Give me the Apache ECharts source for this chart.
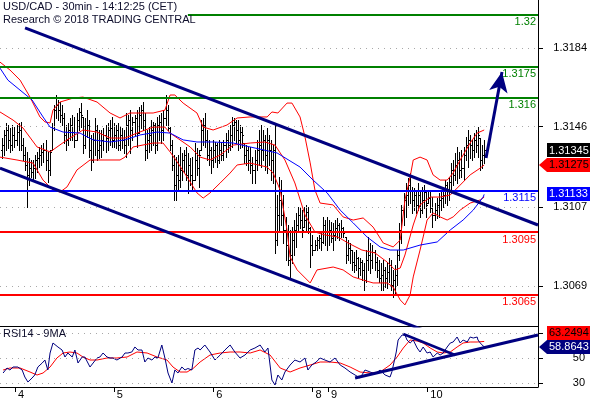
<!DOCTYPE html>
<html><head><meta charset="utf-8">
<script src="https://cdn.jsdelivr.net/npm/echarts@6/dist/echarts.min.js"></script>
<style>html,body{margin:0;padding:0;background:#fff}#c{width:590px;height:400px}</style>
</head><body><div id="c"></div>
<script>
// ---------- data (30-min bars, index 0 = first bar) ----------
const barOpen = [1.31347,1.31371,1.31420,1.31444,1.31396,1.31371,1.31420,1.31396,1.31434,1.31444,1.31371,1.31323,
1.31275,1.31226,1.31260,1.31241,1.31260,1.31299,1.31309,1.31323,1.31338,1.31347,1.31299,1.31251,
1.31347,1.31454,1.31540,1.31565,1.31540,1.31516,1.31502,1.31420,1.31396,1.31444,1.31468,1.31434,
1.31396,1.31492,1.31531,1.31507,1.31371,1.31444,1.31468,1.31347,1.31299,1.31396,1.31444,1.31347,
1.31371,1.31396,1.31420,1.31405,1.31444,1.31454,1.31396,1.31420,1.31444,1.31371,1.31420,1.31396,
1.31371,1.31468,1.31492,1.31444,1.31483,1.31502,1.31429,1.31516,1.31540,1.31492,1.31347,1.31396,
1.31420,1.31444,1.31468,1.31371,1.31468,1.31483,1.31444,1.31502,1.31540,1.31454,1.31371,1.31275,
1.31178,1.31226,1.31202,1.31251,1.31299,1.31323,1.31226,1.31275,1.31226,1.31202,1.31299,1.31260,
1.31347,1.31444,1.31468,1.31396,1.31323,1.31347,1.31299,1.31347,1.31371,1.31299,1.31347,1.31323,
1.31371,1.31396,1.31371,1.31420,1.31468,1.31483,1.31444,1.31396,1.31434,1.31381,1.31323,1.31347,
1.31299,1.31275,1.31251,1.31299,1.31347,1.31371,1.31347,1.31396,1.31323,1.31396,1.31347,1.31299,
1.31347,1.30912,1.31033,1.31106,1.31033,1.30961,1.30888,1.30816,1.30840,1.30912,1.30961,1.30985,
1.31033,1.31009,1.30975,1.31009,1.31048,1.30970,1.30888,1.30864,1.30888,1.30912,1.30922,1.30903,
1.30985,1.30951,1.30937,1.30961,1.30922,1.30937,1.30970,1.30985,1.30951,1.30970,1.30927,1.30840,
1.30874,1.30864,1.30806,1.30792,1.30826,1.30777,1.30806,1.30768,1.30719,1.30816,1.30840,1.30816,
1.30854,1.30806,1.30768,1.30729,1.30743,1.30768,1.30729,1.30758,1.30792,1.30695,1.30719,1.30743,
1.30840,1.30961,1.31057,1.31106,1.31130,1.31178,1.31154,1.31106,1.31130,1.31082,1.31130,1.31057,
1.31106,1.31144,1.31091,1.31115,1.31067,1.31033,1.31057,1.31082,1.31106,1.31115,1.31130,1.31178,
1.31154,1.31193,1.31251,1.31226,1.31275,1.31299,1.31251,1.31260,1.31323,1.31371,1.31396,1.31371,
1.31347,1.31396,1.31371,1.31405,1.31299,1.31323];
const barHigh = [1.31405,1.31444,1.31478,1.31468,1.31454,1.31468,1.31458,1.31468,1.31478,1.31483,1.31405,1.31362,
1.31338,1.31309,1.31299,1.31299,1.31323,1.31338,1.31362,1.31371,1.31381,1.31396,1.31338,1.31347,
1.31478,1.31565,1.31613,1.31589,1.31579,1.31565,1.31526,1.31468,1.31478,1.31502,1.31516,1.31507,
1.31526,1.31550,1.31574,1.31507,1.31502,1.31540,1.31492,1.31420,1.31429,1.31502,1.31468,1.31444,
1.31444,1.31454,1.31468,1.31478,1.31492,1.31507,1.31478,1.31468,1.31478,1.31458,1.31454,1.31444,
1.31526,1.31516,1.31540,1.31507,1.31516,1.31540,1.31555,1.31565,1.31579,1.31526,1.31444,1.31458,
1.31492,1.31483,1.31478,1.31507,1.31516,1.31526,1.31540,1.31613,1.31565,1.31458,1.31396,1.31323,
1.31313,1.31323,1.31362,1.31333,1.31347,1.31362,1.31333,1.31309,1.31313,1.31381,1.31357,1.31347,
1.31492,1.31502,1.31526,1.31444,1.31396,1.31362,1.31396,1.31386,1.31381,1.31396,1.31386,1.31396,
1.31429,1.31444,1.31468,1.31507,1.31502,1.31492,1.31492,1.31468,1.31458,1.31381,1.31371,1.31362,
1.31362,1.31313,1.31347,1.31396,1.31444,1.31468,1.31444,1.31420,1.31454,1.31420,1.31396,1.31371,
1.31478,1.31130,1.31217,1.31202,1.31130,1.31024,1.30985,1.30961,1.30975,1.31009,1.31043,1.31072,
1.31067,1.31057,1.31072,1.31082,1.31072,1.30975,1.30937,1.30912,1.30927,1.30937,1.30946,1.31024,
1.31009,1.31024,1.31009,1.30999,1.30995,1.31009,1.31019,1.30995,1.31009,1.30975,1.30927,1.30912,
1.30898,1.30864,1.30854,1.30864,1.30830,1.30826,1.30816,1.30801,1.30864,1.30927,1.30898,1.30888,
1.30864,1.30830,1.30816,1.30801,1.30816,1.30782,1.30806,1.30826,1.30816,1.30768,1.30792,1.30864,
1.30995,1.31082,1.31140,1.31188,1.31212,1.31236,1.31169,1.31164,1.31154,1.31188,1.31154,1.31169,
1.31178,1.31154,1.31154,1.31144,1.31120,1.31091,1.31115,1.31140,1.31154,1.31154,1.31202,1.31193,
1.31217,1.31284,1.31299,1.31333,1.31362,1.31338,1.31347,1.31362,1.31410,1.31444,1.31420,1.31396,
1.31429,1.31444,1.31458,1.31405,1.31371,1.31396];
const barLow = [1.31309,1.31323,1.31347,1.31357,1.31338,1.31347,1.31362,1.31371,1.31347,1.31347,1.31299,1.31251,
1.31072,1.31178,1.31217,1.31202,1.31212,1.31241,1.31265,1.31275,1.31289,1.31251,1.31193,1.31226,
1.31347,1.31444,1.31502,1.31492,1.31483,1.31468,1.31381,1.31347,1.31371,1.31396,1.31396,1.31362,
1.31396,1.31444,1.31458,1.31333,1.31357,1.31410,1.31313,1.31251,1.31289,1.31323,1.31299,1.31309,
1.31313,1.31347,1.31338,1.31347,1.31371,1.31362,1.31362,1.31357,1.31347,1.31347,1.31357,1.31333,
1.31313,1.31371,1.31333,1.31396,1.31420,1.31362,1.31429,1.31454,1.31444,1.31299,1.31309,1.31338,
1.31347,1.31371,1.31333,1.31347,1.31396,1.31381,1.31396,1.31468,1.31444,1.31347,1.31251,1.31106,
1.31106,1.31154,1.31169,1.31202,1.31241,1.31202,1.31140,1.31178,1.31154,1.31202,1.31226,1.31169,
1.31347,1.31371,1.31362,1.31299,1.31275,1.31236,1.31265,1.31289,1.31265,1.31284,1.31299,1.31299,
1.31313,1.31338,1.31347,1.31362,1.31396,1.31381,1.31347,1.31357,1.31362,1.31284,1.31275,1.31251,
1.31236,1.31188,1.31188,1.31251,1.31275,1.31265,1.31299,1.31251,1.31236,1.31275,1.31202,1.31188,
1.30850,1.30888,1.30961,1.30985,1.30898,1.30816,1.30792,1.30734,1.30801,1.30840,1.30879,1.30961,
1.30970,1.30927,1.30975,1.30961,1.30946,1.30782,1.30840,1.30864,1.30864,1.30874,1.30864,1.30898,
1.30888,1.30864,1.30888,1.30903,1.30864,1.30912,1.30922,1.30912,1.30927,1.30927,1.30801,1.30816,
1.30801,1.30768,1.30758,1.30768,1.30734,1.30743,1.30719,1.30671,1.30710,1.30768,1.30753,1.30777,
1.30768,1.30734,1.30710,1.30671,1.30671,1.30685,1.30681,1.30710,1.30671,1.30637,1.30656,1.30695,
1.30816,1.30898,1.30985,1.31024,1.31082,1.31091,1.31043,1.31057,1.31043,1.31057,1.31024,1.31043,
1.31067,1.31024,1.31091,1.31048,1.30975,1.31009,1.31019,1.31024,1.31057,1.31072,1.31091,1.31082,
1.31106,1.31140,1.31178,1.31202,1.31188,1.31212,1.31217,1.31202,1.31299,1.31265,1.31309,1.31299,
1.31313,1.31338,1.31313,1.31251,1.31260,1.31284];
const barClose = [1.31371,1.31420,1.31444,1.31396,1.31371,1.31420,1.31396,1.31434,1.31444,1.31371,1.31323,1.31275,
1.31226,1.31260,1.31241,1.31260,1.31299,1.31309,1.31323,1.31338,1.31347,1.31299,1.31251,1.31338,
1.31454,1.31540,1.31565,1.31540,1.31516,1.31502,1.31420,1.31396,1.31444,1.31468,1.31434,1.31396,
1.31492,1.31531,1.31516,1.31371,1.31444,1.31468,1.31347,1.31299,1.31396,1.31444,1.31347,1.31371,
1.31396,1.31420,1.31405,1.31444,1.31454,1.31396,1.31420,1.31444,1.31371,1.31420,1.31396,1.31371,
1.31468,1.31492,1.31444,1.31483,1.31502,1.31420,1.31516,1.31540,1.31492,1.31347,1.31396,1.31420,
1.31444,1.31468,1.31371,1.31468,1.31483,1.31444,1.31502,1.31540,1.31454,1.31371,1.31275,1.31178,
1.31226,1.31202,1.31251,1.31299,1.31323,1.31226,1.31275,1.31226,1.31202,1.31299,1.31260,1.31323,
1.31444,1.31468,1.31396,1.31323,1.31347,1.31299,1.31347,1.31371,1.31299,1.31347,1.31323,1.31371,
1.31396,1.31371,1.31420,1.31468,1.31483,1.31444,1.31396,1.31434,1.31420,1.31323,1.31347,1.31299,
1.31275,1.31251,1.31299,1.31347,1.31371,1.31347,1.31396,1.31323,1.31396,1.31347,1.31299,1.31347,
1.30912,1.31033,1.31106,1.31033,1.30961,1.30888,1.30816,1.30840,1.30912,1.30961,1.30985,1.31033,
1.31009,1.30961,1.31009,1.31048,1.30970,1.30888,1.30864,1.30888,1.30912,1.30922,1.30903,1.30985,
1.30951,1.30937,1.30961,1.30922,1.30937,1.30970,1.30985,1.30951,1.30970,1.30946,1.30840,1.30874,
1.30864,1.30806,1.30792,1.30826,1.30777,1.30806,1.30768,1.30719,1.30816,1.30840,1.30816,1.30854,
1.30806,1.30768,1.30729,1.30743,1.30768,1.30729,1.30758,1.30792,1.30695,1.30719,1.30743,1.30840,
1.30961,1.31057,1.31106,1.31130,1.31178,1.31154,1.31106,1.31130,1.31082,1.31130,1.31057,1.31106,
1.31144,1.31082,1.31115,1.31067,1.31033,1.31057,1.31082,1.31106,1.31115,1.31130,1.31178,1.31154,
1.31193,1.31251,1.31226,1.31275,1.31299,1.31251,1.31260,1.31323,1.31371,1.31396,1.31371,1.31347,
1.31396,1.31371,1.31420,1.31299,1.31323,1.31345];

const upperBand = [[-1,1.31772],[3.8,1.31734],[8.7,1.31685],[13.5,1.31603],[18.3,1.31507],[20.7,1.31483],[23.2,1.31478],[24.6,1.31540],[28,1.31579],[34.3,1.31598],[39.1,1.31603],[45.9,1.31579],[52.2,1.31526],[57,1.31502],[61.8,1.31526],[73,1.31526],[78.7,1.31540],[81.2,1.31613],[83.5,1.31613],[87.5,1.31574],[94.2,1.31526],[97.2,1.31458],[102,1.31444],[108.7,1.31468],[113.6,1.31502],[119.9,1.31507],[128.1,1.31507],[130.4,1.31531],[133.3,1.31526],[137.7,1.31574],[140.1,1.31574],[144,1.31507],[146.4,1.31410],[148.9,1.31285],[151.2,1.31154],[153.7,1.31091],[160,1.31082],[164.8,1.31024],[169.7,1.31009],[174.5,1.31019],[179.3,1.30975],[184.2,1.30898],[189,1.30879],[192.4,1.30912],[194.7,1.31106],[197.2,1.31217],[198.7,1.31299],[202,1.31313],[205.4,1.31299],[208.3,1.31227],[211.7,1.31202],[215.1,1.31202],[218,1.31236],[221.4,1.31299],[226.2,1.31381],[229.6,1.31429],[233,1.31444]];
const middleBand = [[-1,1.31531],[5.3,1.31492],[10.1,1.31454],[16.9,1.31362],[23.2,1.31338],[31.4,1.31396],[39.1,1.31444],[45.9,1.31434],[52.2,1.31405],[59.4,1.31405],[65.2,1.31429],[73,1.31458],[78.7,1.31458],[81.2,1.31429],[86,1.31396],[90.9,1.31362],[95.7,1.31313],[100.5,1.31299],[105.4,1.31323],[111.7,1.31371],[119.9,1.31381],[127,1.31386],[131.9,1.31371],[136.7,1.31299],[141.5,1.31188],[146.4,1.31033],[151.2,1.30951],[156,1.30937],[162.3,1.30927],[167.2,1.30898],[173.9,1.30864],[180.2,1.30850],[186.1,1.30806],[189.9,1.30768],[192.4,1.30777],[194.7,1.30840],[198.7,1.30985],[202,1.31082],[206.9,1.31120],[211.7,1.31120],[216.6,1.31130],[221.4,1.31178],[226.2,1.31227],[231.1,1.31260],[233,1.31275]];
const lowerBand = [[-1,1.31313],[7.2,1.31299],[15,1.31284],[19.8,1.31202],[24.6,1.31154],[28,1.31144],[31.4,1.31169],[36.2,1.31251],[42.5,1.31299],[47.3,1.31299],[57,1.31299],[59.4,1.31313],[63.3,1.31362],[73,1.31381],[77.8,1.31381],[81.2,1.31338],[85,1.31284],[89.4,1.31217],[94.2,1.31140],[97.2,1.31115],[100.5,1.31140],[105.4,1.31188],[110.2,1.31236],[113.6,1.31275],[119.9,1.31284],[128.1,1.31265],[131,1.31236],[134.4,1.31154],[135.8,1.31072],[137.7,1.30961],[139.2,1.30830],[142.6,1.30768],[148.9,1.30705],[152.2,1.30768],[160,1.30782],[164.8,1.30768],[169.7,1.30734],[174.5,1.30719],[179.3,1.30705],[186.1,1.30705],[189,1.30685],[192.4,1.30623],[194.7,1.30599],[197.2,1.30647],[198.7,1.30734],[202,1.30864],[203.5,1.30927],[205.4,1.31009],[208.3,1.31043],[211.7,1.31024],[215.1,1.31009],[218,1.31024],[221.4,1.31057],[226.2,1.31091],[231.1,1.31106],[233,1.31120]];
const blueMA = [[-1,1.31743],[2.8,1.31685],[14.5,1.31589],[19.8,1.31507],[23.2,1.31458],[29.5,1.31434],[37.7,1.31429],[44,1.31396],[52.2,1.31386],[59.4,1.31396],[66.7,1.31420],[74.9,1.31434],[81.2,1.31429],[87.5,1.31396],[94.2,1.31386],[102,1.31386],[111.7,1.31381],[119.9,1.31362],[132.9,1.31333],[144,1.31265],[150.3,1.31202],[157.1,1.31140],[163.4,1.31057],[169.7,1.30995],[176.4,1.30927],[182.7,1.30879],[187.5,1.30864],[193.9,1.30864],[202,1.30888],[210.3,1.30903],[216.6,1.30961],[222.8,1.31009],[227.7,1.31057],[232.5,1.31120],[233,1.31133]];

const rsiLine = [[0.5,38],[2.4,42],[3.8,40.4],[5.3,42.8],[7.6,42.8],[9.7,40.4],[11,34.8],[12.5,30.8],[14.5,34],[15.8,36.4],[17.3,42.8],[19.4,46],[20.7,48.4],[22.1,40.4],[23.2,54],[24.6,62],[25.5,60.4],[27,58.8],[29,56.4],[30.4,50.8],[31.8,54],[33.9,50.8],[35.2,56.4],[36.7,46],[38.7,50.8],[40,50.8],[41.5,46],[42.5,42.8],[44,46],[45.9,50],[47.3,50.8],[48.8,54],[50.7,50.8],[52.2,50],[53.6,50],[55.5,48.4],[58,50.8],[59.4,54],[60.8,54],[62.7,54.8],[64.2,58.8],[65.7,56.4],[67.6,56.4],[69,46.8],[70.5,50],[72.4,48.4],[73.9,50.8],[75.3,50],[77.2,60.4],[78.7,50],[80.2,38],[82.1,30],[83.5,40.4],[85,38],[86.9,42.8],[88.4,40.4],[89.8,41.6],[91.7,40.4],[93.2,56.4],[94.7,58],[95.7,56.4],[98,60.4],[100.5,54.8],[102.9,48.4],[105.4,52.4],[107.7,56.4],[110.2,60.4],[112.5,54.8],[115,50],[117.4,52.4],[119.9,56.4],[122.2,58],[124.7,60.4],[127,54.8],[128.5,58],[130.4,32.4],[131.9,28.4],[133.3,36.4],[135.2,32.4],[136.7,38.8],[139.2,44.4],[141.5,48.4],[144,46.8],[146.4,50],[147.8,40.4],[149.7,44.4],[151.8,46.8],[153.7,50],[156,48.4],[158.5,46.8],[160.9,50],[163.4,44.4],[165.7,42],[168.2,38.8],[170.6,36.4],[173,34],[175.4,40.4],[177.9,38.8],[180.2,37.2],[182.7,40.4],[185.1,36.4],[187.5,34.8],[188.4,39],[190.5,54.8],[191.4,64.4],[193.3,68.4],[194.7,68.4],[195.7,64.4],[197.2,62],[198.7,64.4],[200.6,58],[202,54.8],[203.5,58.8],[205.4,54],[206.9,54.8],[208.3,50.8],[210.3,54],[211.7,52.4],[213.2,54],[215.1,58.8],[216.6,62],[218,62.8],[219.9,66.8],[221.4,62],[222.8,64.4],[224.8,62.8],[226.2,66.8],[227.7,66],[229.6,66.8],[230,64.4],[231.1,62],[232.5,59.6],[233,58.8643]];
const rsiMA = [[0.5,40.4],[3.8,42],[8.7,42],[13.5,38.8],[16.9,36.4],[19.8,38],[23.2,42.8],[26.5,50],[29.5,54],[32.8,54.8],[36.2,54],[39.1,50.8],[42.5,48.4],[45.9,48.4],[50.7,50],[55.5,50],[60.4,50.8],[65.2,54.8],[70.1,54],[74.9,50.8],[79.7,48.4],[82.6,42.8],[86,38.8],[89.4,38.8],[92.3,41.6],[95.7,46.8],[100.5,52.4],[105.4,54],[110.2,54.8],[115,54.8],[119.9,54],[124.7,56.4],[129.5,52.4],[134.4,42],[139.2,38.8],[144,42],[148.9,44.4],[153.7,46.8],[158.5,46.8],[163.4,46],[168.2,42.8],[173,38.8],[177.9,38],[182.7,38.8],[187.5,44.4],[190.9,50.8],[193.9,58],[197.2,64.4],[200.6,63.6],[203.5,62],[206.9,58],[210.3,54.8],[213.2,54],[216.6,54.8],[219.9,58.8],[222.8,62],[226.2,62.8],[229.6,62.8],[233,63.2494]];

const channelUpper = [[11.1,1.31937],[259,1.30985]];
const channelLower = [[-1,1.31260],[205.6,1.30470]];
const projection = [[233.9,1.31309],[241.6,1.31724]];
const rsiSupport = [[170.6,34],[259,68.4]];
const rsiResistance = [[193.9,69.2],[218.9,52.4]];

const levelValues = [1.32,1.3175,1.316,1.3115,1.3095,1.3065];
const levelLabels = ['1.32','1.3175','1.316','1.3115','1.3095','1.3065'];
const level132Start = 89.8;
const priceTicks = [1.3069,1.3107,1.3146,1.3184];
const rsiTicks = [30,50,70];
const rsiLabelTicks = [30,50];
const dayTickPos = [6.2,54,102,150,157.5,205.5];
const dayLabels = ['4','5','6','8','9','10'];
const lastClose = 1.31345, lastMid = 1.31275, lastMA = 1.31133;
const lastRsiMA = 63.2494, lastRsi = 58.8643;
const titleLine1 = 'USD/CAD - 30min - 14:12:25 (CET)';
const titleLine2 = 'Research \u00a9 2018 TRADING CENTRAL';
const rsiTitle = 'RSI14 - 9MA';

// ---------- chart ----------
const FONT = '"Liberation Sans", Arial, sans-serif';
const X_MIN = -1, X_MAX = 259;
const levelColors = ['#008000','#008000','#008000','#0000ff','#ff0000','#ff0000'];
const ohlcData = barOpen.map((o, i) => [i, o, barHigh[i], barLow[i], barClose[i]]);

function renderOHLC(params, api) {
  const i = api.value(0);
  const h = api.coord([i, api.value(2)]);
  const l = api.coord([i, api.value(3)]);
  const o = api.coord([i, api.value(1)]);
  const c = api.coord([i, api.value(4)]);
  const r = Math.round(h[0]);
  const yo = Math.round(o[1]) + 0.5, yc = Math.round(c[1]) + 0.5;
  return {type: 'group', children: [
    {type: 'line', shape: {x1: r + 0.5, y1: Math.round(h[1]), x2: r + 0.5, y2: Math.round(l[1]) + 1}, style: {stroke: '#000', lineWidth: 1}},
    {type: 'line', shape: {x1: r - 1, y1: yo, x2: r, y2: yo}, style: {stroke: '#000', lineWidth: 1}},
    {type: 'line', shape: {x1: r + 1, y1: yc, x2: r + 2, y2: yc}, style: {stroke: '#000', lineWidth: 1}}
  ]};
}

const chart = echarts.init(document.getElementById('c'), null, {renderer: 'canvas'});
const lineBase = {type: 'line', showSymbol: false, symbol: 'none', smooth: false, silent: true};

const levelMarks = levelValues.map((v, k) => {
  const item = {
    lineStyle: {color: levelColors[k], width: 2, type: 'solid'},
    label: {show: true, position: 'insideEndBottom', formatter: levelLabels[k], color: levelColors[k], fontSize: 11, fontFamily: FONT, distance: [2, 2]}
  };
  if (k === 0) {
    return [Object.assign({coord: [level132Start, v]}, item), {coord: [X_MAX, v]}];
  }
  return Object.assign({yAxis: v}, item);
});

const option = {
  animation: false,
  backgroundColor: '#ffffff',
  grid: [
    {left: 0, right: 52, top: 0, height: 326},
    {left: 0, right: 52, top: 326, height: 61}
  ],
  xAxis: [
    {gridIndex: 0, type: 'value', min: X_MIN, max: X_MAX,
     axisLine: {show: true, onZero: false, lineStyle: {color: '#000', width: 1}},
     axisTick: {show: false}, axisLabel: {show: false}, splitLine: {show: false}},
    {gridIndex: 1, type: 'value', min: X_MIN, max: X_MAX,
     axisLine: {show: true, onZero: false, lineStyle: {color: '#000', width: 1}},
     axisTick: {show: true, customValues: dayTickPos, length: 5, lineStyle: {color: '#000'}},
     axisLabel: {show: true, customValues: dayTickPos, align: 'left', margin: 2, padding: [0, 0, 0, 3],
       formatter: v => { const k = dayTickPos.findIndex(p => Math.abs(p - v) < 0.01); return k >= 0 ? dayLabels[k] : ''; },
       fontSize: 11, color: '#000', fontFamily: FONT},
     splitLine: {show: false}}
  ],
  yAxis: [
    {gridIndex: 0, type: 'value', position: 'right', min: 1.30497, max: 1.32072, scale: true,
     axisLine: {show: true, onZero: false, lineStyle: {color: '#000', width: 1}},
     axisTick: {show: true, customValues: priceTicks, length: 5, lineStyle: {color: '#000'}},
     axisLabel: {show: true, customValues: priceTicks, formatter: v => v.toFixed(4), align: 'right', margin: 49,
       fontSize: 11, color: '#000', fontFamily: FONT},
     splitLine: {show: false}},
    {gridIndex: 1, type: 'value', position: 'right', min: 26.8, max: 75.6, scale: true,
     axisLine: {show: true, onZero: false, lineStyle: {color: '#000', width: 1}},
     axisTick: {show: true, customValues: rsiTicks, length: 5, lineStyle: {color: '#000'}},
     axisLabel: {show: true, customValues: rsiLabelTicks, formatter: v => String(Math.round(v)), align: 'right', margin: 47,
       fontSize: 11, color: '#000', fontFamily: FONT},
     splitLine: {show: false}}
  ],
  series: [
    Object.assign({}, lineBase, {name: 'mid', xAxisIndex: 0, yAxisIndex: 0, data: middleBand, z: 3,
      lineStyle: {color: '#ff0000', width: 1},
      markLine: {silent: true, precision: 6, symbol: ['none', 'none'], label: {show: false},
        lineStyle: {color: '#a8a8a8', type: [1, 5], width: 1},
        data: priceTicks.map(v => ({yAxis: v}))}}),
    {name: 'ohlc', type: 'custom', xAxisIndex: 0, yAxisIndex: 0, data: ohlcData, encode: {x: 0, y: [1, 2, 3, 4]},
      renderItem: renderOHLC, z: 2, silent: true},
    Object.assign({}, lineBase, {name: 'upper', xAxisIndex: 0, yAxisIndex: 0, data: upperBand, z: 3, lineStyle: {color: '#ff0000', width: 1}}),
    Object.assign({}, lineBase, {name: 'lower', xAxisIndex: 0, yAxisIndex: 0, data: lowerBand, z: 3, lineStyle: {color: '#ff0000', width: 1}}),
    Object.assign({}, lineBase, {name: 'ma', xAxisIndex: 0, yAxisIndex: 0, data: blueMA, z: 3, lineStyle: {color: '#0000ff', width: 1}}),
    Object.assign({}, lineBase, {name: 'chanLow', xAxisIndex: 0, yAxisIndex: 0, data: channelLower, z: 5,
      lineStyle: {color: '#000080', width: 3},
      markLine: {silent: true, precision: 6, symbol: ['none', 'none'], data: levelMarks}}),
    Object.assign({}, lineBase, {name: 'chanUp', xAxisIndex: 0, yAxisIndex: 0, data: channelUpper, z: 6,
      lineStyle: {color: '#000080', width: 3},
      markLine: {silent: true, precision: 6, symbol: ['none', 'arrow'], symbolSize: [14, 20], label: {show: false},
        lineStyle: {color: '#000080', width: 3, type: 'solid'},
        data: [[{coord: projection[0]}, {coord: projection[1]}]]}}),
    Object.assign({}, lineBase, {name: 'rsiMA', xAxisIndex: 1, yAxisIndex: 1, data: rsiMA, z: 3,
      lineStyle: {color: '#ff0000', width: 1},
      markLine: {silent: true, precision: 6, symbol: ['none', 'none'], label: {show: false},
        lineStyle: {color: '#a8a8a8', type: [1, 5], width: 1},
        data: rsiTicks.map(v => ({yAxis: v}))}}),
    Object.assign({}, lineBase, {name: 'rsi', xAxisIndex: 1, yAxisIndex: 1, data: rsiLine, z: 4, lineStyle: {color: '#000080', width: 1}}),
    Object.assign({}, lineBase, {name: 'rsiSup', xAxisIndex: 1, yAxisIndex: 1, data: rsiSupport, z: 6, lineStyle: {color: '#000080', width: 3}}),
    Object.assign({}, lineBase, {name: 'rsiRes', xAxisIndex: 1, yAxisIndex: 1, data: rsiResistance, z: 6, lineStyle: {color: '#000080', width: 2.5}})
  ]
};
chart.setOption(option);

// value tags on the right, placed through the axes
const yP = v => chart.convertToPixel({yAxisIndex: 0}, v);
const yR = v => chart.convertToPixel({yAxisIndex: 1}, v);
function tagText(txt, y, color) {
  return {type: 'text', x: 549, y: y, z: 101, style: {text: txt, fill: color, font: '11px ' + FONT, align: 'left', verticalAlign: 'middle'}};
}
function boxTag(txt, y, bg, fg) {
  return [{type: 'rect', z: 100, shape: {x: 547, y: Math.round(y) - 7, width: 43, height: 14}, style: {fill: bg}}, tagText(txt, y, fg)];
}
function arrowTag(txt, y, bg, fg) {
  const t = Math.round(y);
  return [{type: 'polygon', z: 100, shape: {points: [[539, t], [547, t - 7], [590, t - 7], [590, t + 7], [547, t + 7]]}, style: {fill: bg}}, tagText(txt, y, fg)];
}
const yRsiVal = yR(lastRsi);
const graphics = [].concat(
  boxTag(lastClose.toFixed(5), yP(lastClose), '#000000', '#ffffff'),
  arrowTag(lastMid.toFixed(5), yP(lastMid), '#ff0000', '#000000'),
  boxTag(lastMA.toFixed(5), yP(lastMA), '#0000ff', '#ffffff'),
  boxTag(lastRsiMA.toFixed(4), Math.min(yR(lastRsiMA), yRsiVal - 14), '#ff0000', '#000000'),
  arrowTag(lastRsi.toFixed(4), yRsiVal, '#000080', '#ffffff'),
  [
    {type: 'text', x: 3, y: 1, z: 102, style: {text: titleLine1, fill: '#0d0d2b', font: '11px ' + FONT, verticalAlign: 'top'}},
    {type: 'text', x: 3, y: 14, z: 102, style: {text: titleLine2, fill: '#0d0d2b', font: '11px ' + FONT, verticalAlign: 'top'}},
    {type: 'text', x: 3, y: 328, z: 102, style: {text: rsiTitle, fill: '#0d0d2b', font: '11px ' + FONT, verticalAlign: 'top'}}
  ]
);
chart.setOption({graphic: graphics});
</script>
</body></html>
